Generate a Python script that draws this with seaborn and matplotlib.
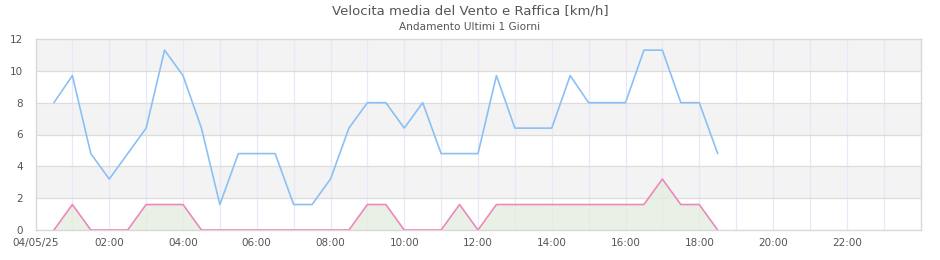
import matplotlib
matplotlib.use("Agg")
import matplotlib.pyplot as plt
import seaborn as sns
import pandas as pd
import numpy as np

# Data (hours since 04/05/25 00:00, 30-min steps)
hours = [0.5, 1.0, 1.5, 2.0, 2.5, 3.0, 3.5, 4.0, 4.5, 5.0, 5.5, 6.0, 6.5, 7.0,
         7.5, 8.0, 8.5, 9.0, 9.5, 10.0, 10.5, 11.0, 11.5, 12.0, 12.5, 13.0,
         13.5, 14.0, 14.5, 15.0, 15.5, 16.0, 16.5, 17.0, 17.5, 18.0, 18.5]
raffica = [8.0, 9.7, 4.8, 3.2, 4.8, 6.4, 11.3, 9.7, 6.4, 1.6, 4.8, 4.8, 4.8, 1.6,
           1.6, 3.2, 6.4, 8.0, 8.0, 6.4, 8.0, 4.8, 4.8, 4.8, 9.7, 6.4,
           6.4, 6.4, 9.7, 8.0, 8.0, 8.0, 11.3, 11.3, 8.0, 8.0, 4.8]
media = [0.0, 1.6, 0.0, 0.0, 0.0, 1.6, 1.6, 1.6, 0.0, 0.0, 0.0, 0.0, 0.0, 0.0,
         0.0, 0.0, 0.0, 1.6, 1.6, 0.0, 0.0, 0.0, 1.6, 0.0, 1.6, 1.6,
         1.6, 1.6, 1.6, 1.6, 1.6, 1.6, 1.6, 3.2, 1.6, 1.6, 0.0]
tick_hours = [0, 2, 4, 6, 8, 10, 12, 14, 16, 18, 20, 22]
tick_labels = ["04/05/25", "02:00", "04:00", "06:00", "08:00", "10:00",
               "12:00", "14:00", "16:00", "18:00", "20:00", "22:00"]
y_ticks = [0, 2, 4, 6, 8, 10, 12]

title = "Velocita media del Vento e Raffica [km/h]"
subtitle = "Andamento Ultimi 1 Giorni"

df = pd.DataFrame({"ora": hours, "Raffica": raffica, "Media": media})

sns.set_style("white")
plt.rcParams["font.family"] = ["DejaVu Sans"]

fig = plt.figure(figsize=(9.4, 2.6), dpi=100)
ax = fig.add_axes([35.5 / 940, 30 / 260, (920.5 - 35.5) / 940, (230 - 39) / 260])

text_col = "#555555"

# alternating bands
for i, (lo, hi) in enumerate(zip(y_ticks[:-1], y_ticks[1:])):
    if i % 2 == 1:
        ax.axhspan(lo, hi, color="#f3f3f3", zorder=0, lw=0)

# grids
for h in range(1, 24):
    ax.axvline(h, color="#e8e8f8", lw=0.9, zorder=0.5)
for y in y_ticks[1:-1]:
    ax.axhline(y, color="#dcdcdc", lw=0.9, zorder=0.6)

ax.fill_between(df["ora"], df["Media"], 0, color="#e4eddf", alpha=0.8, lw=0, zorder=1)
sns.lineplot(data=df, x="ora", y="Raffica", ax=ax, color="#8cc0f5", lw=1.2, zorder=3)
sns.lineplot(data=df, x="ora", y="Media", ax=ax, color="#ec88ba", lw=1.2, zorder=3)

ax.set_xlim(0, 24)
ax.set_ylim(0, 12)
ax.set_xticks(tick_hours)
ax.set_xticklabels(tick_labels)
ax.set_yticks(y_ticks)
ax.set_xlabel("")
ax.set_ylabel("")
ax.tick_params(axis="both", length=0, labelsize=7.5, colors=text_col, pad=4)
ax.tick_params(axis="y", pad=9)
ax.tick_params(axis="x", pad=6)
for s in ax.spines.values():
    s.set_color("#d8d8d8")
    s.set_linewidth(1)

fig.text(0.5, 1 - 11 / 260, title, ha="center", va="center", fontsize=9.5, color=text_col)
fig.text(0.5, 1 - 27 / 260, subtitle, ha="center", va="center", fontsize=7.6, color=text_col)

fig.savefig("out.png", dpi=100)
